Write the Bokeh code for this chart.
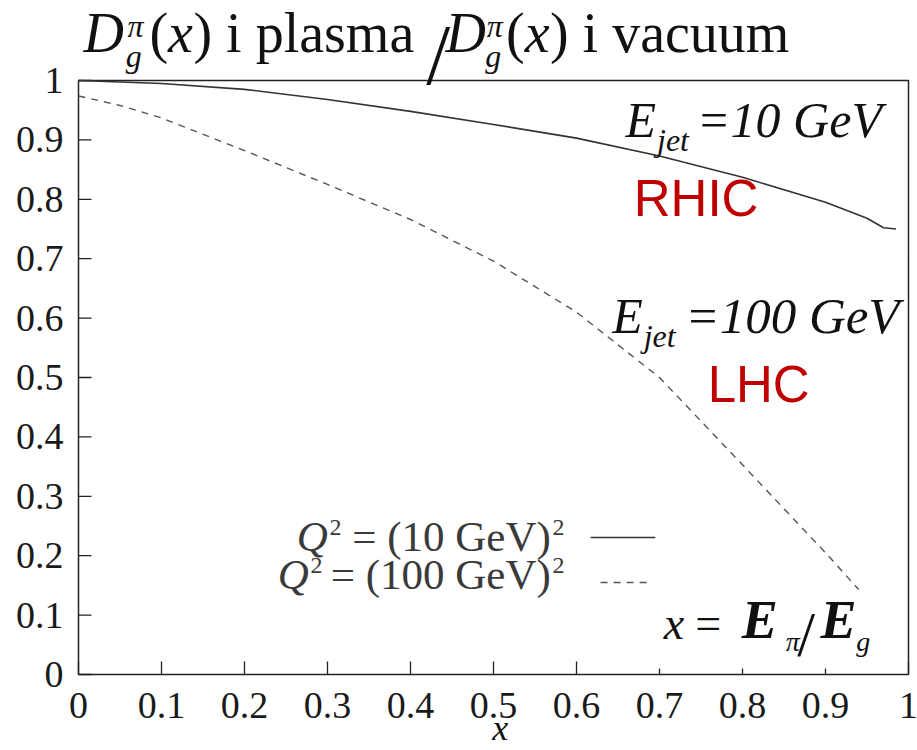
import math
from bokeh.plotting import figure
from bokeh.models import Range1d, Label
from bokeh.embed import file_html
from bokeh.resources import INLINE

# ---- data ----
x_q10 = [0, 0.1, 0.2, 0.3, 0.4, 0.5, 0.6, 0.7, 0.8, 0.9, 0.95, 0.97, 0.985]
y_q10 = [1.0, 0.995, 0.985, 0.968, 0.948, 0.926, 0.903, 0.873, 0.837, 0.795, 0.768, 0.752, 0.750]
x_q100 = [0, 0.05, 0.1, 0.2, 0.3, 0.4, 0.5, 0.6, 0.7, 0.8, 0.9, 0.94]
y_q100 = [0.974, 0.958, 0.937, 0.882, 0.825, 0.766, 0.696, 0.61, 0.50, 0.353, 0.205, 0.143]
tick_values = [0, 0.1, 0.2, 0.3, 0.4, 0.5, 0.6, 0.7, 0.8, 0.9, 1]
tick_labels = ["0", "0.1", "0.2", "0.3", "0.4", "0.5", "0.6", "0.7", "0.8", "0.9", "1"]
x_limits = [0, 1]
y_limits = [0, 1]

# ---- layout (pixels of the plotting box inside the 917x750 canvas) ----
W, H = 917, 750
BOX_L, BOX_R, BOX_T, BOX_B = 78, 908, 80, 674
sx = (x_limits[1] - x_limits[0]) / (BOX_R - BOX_L)
sy = (y_limits[1] - y_limits[0]) / (BOX_B - BOX_T)
x_range = Range1d(x_limits[0] - BOX_L * sx, x_limits[1] + (W - BOX_R) * sx)
y_range = Range1d(y_limits[0] - (H - BOX_B) * sy, y_limits[1] + BOX_T * sy)

# tick mark lengths in screen pixels (the reference draws 0.7-0.9 shorter on the x axis)
x_tick_len = [13, 13, 13, 13, 13, 13, 13, 6, 6, 6, 13]
y_tick_len = [13] * len(tick_values)

SERIF = "Liberation Serif"
SANS = "Liberation Sans"
AX = "#222222"

p = figure(width=W, height=H, output_backend="svg", toolbar_location=None,
           x_range=x_range, y_range=y_range, x_axis_type=None, y_axis_type=None,
           min_border_left=0, min_border_right=0, min_border_top=0, min_border_bottom=0)
p.outline_line_color = None
p.background_fill_color = "white"
p.border_fill_color = "white"
p.grid.visible = False

# plotting box and inward ticks
p.quad(left=[x_limits[0]], right=[x_limits[1]], bottom=[y_limits[0]], top=[y_limits[1]],
       fill_color=None, line_color=AX, line_width=1.5)
n = len(tick_values)
p.ray(x=tick_values, y=[y_limits[0]] * n, length=x_tick_len, length_units="screen",
      angle=math.pi / 2, line_color=AX, line_width=1.3)
p.ray(x=[x_limits[0]] * n, y=tick_values, length=y_tick_len, length_units="screen",
      angle=0, line_color=AX, line_width=1.3)

# tick labels
p.text(x=tick_values, y=[y_limits[0]] * n, text=tick_labels, text_align="center",
       text_baseline="alphabetic", y_offset=31, text_font=SERIF, text_font_size="38px",
       text_color="#1a1a1a")
p.text(x=[x_limits[0]] * n, y=tick_values, text=tick_labels, text_align="right",
       text_baseline="alphabetic", x_offset=-15, y_offset=0, text_font=SERIF,
       text_font_size="38px", text_color="#1a1a1a")

# curves
p.line(x_q10, y_q10, line_color="#333333", line_width=1.6)
p.line(x_q100, y_q100, line_color="#555555", line_width=1.4, line_dash="7 6")

# legend key lines (to the right of the legend text, as in the reference)
p.segment(x0=[0.617], y0=[0.2306], x1=[0.695], y1=[0.2306], line_color="#333333", line_width=1.6)
p.segment(x0=[0.629], y0=[0.155], x1=[0.687], y1=[0.155], line_color="#555555",
          line_width=1.4, line_dash="7 6")


def lab(text, x, y, size, style="normal", font=SERIF, color="#111111", align="left"):
    # y is the wanted baseline; the renderer draws "alphabetic" text about 0.38 em lower
    p.add_layout(Label(x=x, y=y + 0.38 * size * sy, text=text, text_font=font,
                       text_font_size=f"{size}px", text_font_style=style,
                       text_color=color, text_align=align, text_baseline="alphabetic"))


# title: D_g^pi(x) i plasma / D_g^pi(x) i vacuum
TY = 1.0438
lab("D", 0.006, TY, 56, "italic")
lab("π", 0.0590, 1.0707, 32, "italic")
lab("g", 0.0570, 1.0202, 32, "italic")
lab("(", 0.0855, TY, 56)
lab("x", 0.1079, TY, 56, "italic")
lab(") i plasma", 0.1385, TY, 56)
lab("/", 0.4190, 0.9880, 86)
lab("D", 0.4422, TY, 56, "italic")
lab("π", 0.4920, 1.0707, 32, "italic")
lab("g", 0.4900, 1.0202, 32, "italic")
lab("(", 0.5150, TY, 56)
lab("x", 0.5375, TY, 56, "italic")
lab(") i vacuum", 0.5680, TY, 56)

# E_jet annotations
lab("E", 0.659, 0.901, 50, "italic")
lab("jet", 0.697, 0.879, 32, "italic")
lab("=10 GeV", 0.745, 0.901, 50, "italic")
lab("RHIC", 0.669, 0.768, 51, font=SANS, color="#C00000")

lab("E", 0.643, 0.571, 50, "italic")
lab("jet", 0.681, 0.549, 32, "italic")
lab("=100 GeV", 0.731, 0.571, 51, "italic")
lab("LHC", 0.758, 0.456, 51, font=SANS, color="#C00000")

# legend text
LEG = "#3a3a3a"
lab("Q", 0.263, 0.2054, 43, "italic", color=LEG)
lab("2", 0.3024, 0.232, 24, color=LEG)
lab("= (10 GeV)", 0.569, 0.2054, 43, color=LEG, align="right")
lab("2", 0.571, 0.232, 24, color=LEG)
lab("Q", 0.240, 0.1414, 43, "italic", color=LEG)
lab("2", 0.2795, 0.168, 24, color=LEG)
lab("= (100 GeV)", 0.569, 0.1414, 43, color=LEG, align="right")
lab("2", 0.571, 0.168, 24, color=LEG)

# x = E_pi / E_g
lab("x", 0.705, 0.0572, 46, "italic")
lab("=", 0.743, 0.0572, 46)
lab("E", 0.799, 0.0572, 54, "bold italic")
lab("π", 0.852, 0.037, 28, "italic")
lab("/", 0.866, 0.027, 64)
lab("E", 0.894, 0.0572, 54, "bold italic")
lab("g", 0.937, 0.037, 28, "italic")

# x-axis label
lab("x", 0.508, -0.1134, 36, "italic", align="center")

open("out.html", "w").write(file_html(p, INLINE))
